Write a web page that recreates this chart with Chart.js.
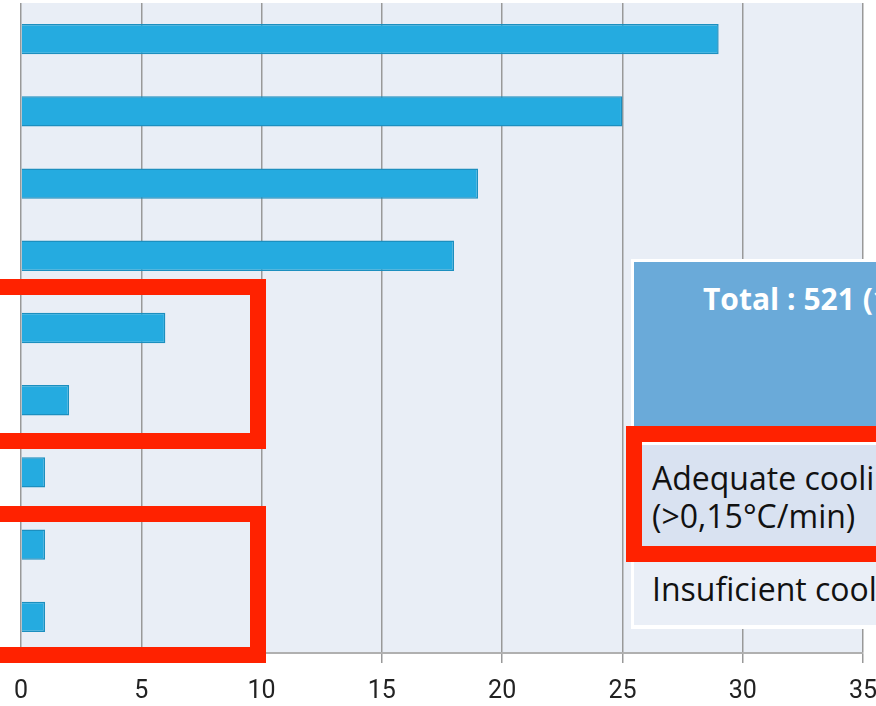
<!DOCTYPE html>
<html>
<head>
<meta charset="utf-8">
<script src="https://cdn.jsdelivr.net/npm/chart.js@4/dist/chart.umd.min.js"></script>
<style>
  html, body { margin: 0; padding: 0; background: #fff; overflow: hidden; }
  #wrap { position: relative; width: 876px; height: 706px; overflow: hidden; }
  #chart1 { position: absolute; left: 0; top: 0; }
  .summary { position: absolute; left: 631px; top: 259px; width: 400px; height: 370px; background: #fff; }
  .summary .head { position: absolute; left: 3px; top: 3px; right: 0; height: 165px; background: #6aaad9; }
  .summary .head span { position: absolute; left: 69px; top: 16px; color: #fff; font: bold 30px "Open Sans", sans-serif; white-space: nowrap; }
  .summary .row1 { position: absolute; left: 3px; top: 186px; right: 0; height: 102px; background: #d9e2f1; }
  .summary .row2 { position: absolute; left: 3px; top: 291px; right: 0; height: 75px; background: #eaeff7; }
  .summary .row1 span, .summary .row2 span { position: absolute; left: 18px; color: #111; font: 32px "Open Sans", sans-serif; white-space: nowrap; line-height: 38px; }
  .box { position: absolute; border: 16px solid #ff2200; box-sizing: border-box; }
</style>
</head>
<body>
<div id="wrap">
  <canvas id="chart1" width="876" height="706"></canvas>
  <div class="summary">
    <div class="head"><span>Total : 521 (100%)</span></div>
    <div class="row1"><span style="top:14px">Adequate cooling<br>(&gt;0,15°C/min)</span></div>
    <div class="row2"><span style="top:20px">Insuficient cooling</span></div>
  </div>
  <div class="box" style="left:-30px; top:279px; width:296px; height:170px"></div>
  <div class="box" style="left:-30px; top:506px; width:296px; height:157px"></div>
  <div class="box" style="left:626px; top:426px; width:300px; height:136px"></div>
</div>
<script>
const categories = ["A", "B", "C", "D", "E", "F", "G", "H", "I"];
const counts = [29, 25, 19, 18, 6, 2, 1, 1, 1];
const xTicks = [0, 5, 10, 15, 20, 25, 30, 35];

// light blue-grey fill behind the plot area
const plotBackground = {
  id: "plotBackground",
  beforeDraw(chart) {
    const { ctx, chartArea } = chart;
    ctx.save();
    ctx.fillStyle = "#e9eef6";
    ctx.fillRect(chartArea.left, chartArea.top, chartArea.right - chartArea.left, chartArea.bottom - chartArea.top);
    ctx.restore();
  },
};

const ctx = document.getElementById("chart1");
const myChart = new Chart(ctx, {
  type: "bar",
  data: {
    labels: categories,
    datasets: [
      {
        label: "Count",
        data: counts,
        backgroundColor: "#25abe0",
        borderColor: "#1c8fbf",
        borderWidth: 1.5,
        categoryPercentage: 1,
        barPercentage: 0.42,
      },
    ],
  },
  options: {
    indexAxis: "y",
    responsive: false,
    animation: false,
    layout: { padding: { left: 21, right: 0, top: 3, bottom: 0 } },
    plugins: {
      legend: { display: false },
      tooltip: { enabled: false },
    },
    scales: {
      x: {
        min: 0,
        max: 35,
        afterBuildTicks(axis) {
          axis.ticks = xTicks.map((v) => ({ value: v }));
        },
        // fixed axis band so the plot ends where the labels need it
        afterFit(axis) {
          axis.height = 53;
          axis.paddingRight = 13;
          axis.paddingLeft = 0;
        },
        grid: {
          color: "#999",
          lineWidth: 1.5,
          tickLength: 10,
        },
        border: { color: "#b0b0b0", width: 2 },
        ticks: {
          color: "#222",
          padding: 14,
          font: { family: "Liberation Sans Narrow, Roboto, sans-serif", size: 25 },
        },
      },
      y: {
        display: false,
      },
    },
  },
  plugins: [plotBackground],
});
</script>
</body>
</html>
